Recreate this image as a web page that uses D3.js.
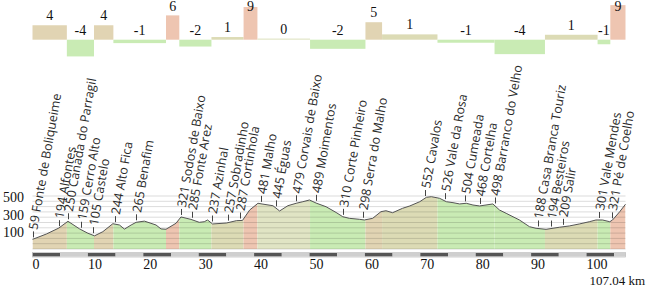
<!DOCTYPE html>
<html>
<head>
<meta charset="utf-8">
<script src="https://cdn.jsdelivr.net/npm/d3@7"></script>
<style>
  body { margin: 0; background: #fff; }
</style>
</head>
<body>
<div id="chart"></div>
<script>
const width = 649;
const height = 289;

// gradient segments: boundaries in km, gradient in %, printed label
const segKm = [0, 6.2, 11.1, 14.6, 24.1, 26.5, 32.3, 38.1, 40.6, 50.1, 60.1, 63.1, 73.1, 83.4, 92.5, 102.0, 104.3, 107.04];
const segGrade = [3.8, -4.4, 3.8, -0.9, 6.4, -1.8, 0.7, 8.6, 0.3, -2.4, 4.6, 1.4, -0.8, -3.8, 1.3, -1.2, 9.1];
const segLabel = [4, -4, 4, -1, 6, -2, 1, 9, 0, -2, 5, 1, -1, -4, 1, -1, 9];

// elevation profile (km, m)
const profKm = [0, 2.5, 4.75, 6.4, 8.5, 10, 11.2, 12.7, 14.5, 15.7, 16.6, 17.8, 18.7, 20.2, 22.3, 23.2, 24.1,
  25.9, 26.8, 28.6, 30.1, 31.0, 31.6, 32.5, 35.0, 36.8, 37.9, 39.2, 40.7, 41.6, 43.4, 44.6, 46.1, 47.6,
  48.8, 50.0, 51.2, 53.0, 54.8, 56.0, 57.2, 59.0, 59.9, 61.4, 62.9, 63.8, 65.0, 66.8, 68.1, 69.9, 71.1,
  72.0, 73.5, 74.7, 75.9, 77.1, 78.3, 79.5, 80.7, 83.1, 84.3, 85.5, 87.9, 89.7, 90.9, 92.7, 95.1, 96.9,
  98.7, 100.5, 101.7, 102.9, 104.2, 104.7, 106.0, 107.04];
const profElev = [59, 121, 190, 268, 180, 130, 100, 148, 240, 225, 178, 225, 256, 270, 225, 180, 176,
  245, 318, 290, 256, 263, 283, 237, 248, 275, 278, 398, 476, 466, 448, 387, 448, 476,
  494, 514, 478, 436, 370, 321, 302, 291, 283, 302, 379, 390, 367, 418, 445, 494, 545,
  552, 533, 494, 483, 468, 476, 456, 445, 468, 398, 360, 283, 206, 187, 175, 199, 214,
  237, 263, 283, 283, 263, 283, 379, 465];

// waypoints
const wpKm = [0, 4.7, 6.4, 8.8, 10.9, 14.9, 18.7, 26.8, 28.8, 32.4, 35.3, 37.4, 41.3, 44.0, 47.6, 51.1,
  56.1, 59.6, 70.9, 74.5, 78.1, 80.7, 83.4, 91.2, 93.6, 95.7, 102.3, 104.6];
const wpElev = [59, 194, 250, 159, 105, 244, 265, 321, 285, 237, 257, 287, 481, 445, 479, 489,
  310, 298, 552, 526, 504, 468, 498, 188, 194, 209, 301, 321];
const wpName = ["Fonte de Boliqueime", "Alfontes", "Canada do Parragil", "Cerro Alto", "Castelo",
  "Alto Fica", "Benafim", "Sodos de Baixo", "Fonte Arez", "Azinhal", "Sobradinho", "Cortinhola",
  "Malho", "Éguas", "Corvais de Baixo", "Moimentos", "Corte Pinheiro", "Serra do Malho", "Cavalos",
  "Vale da Rosa", "Cumeada", "Cortelha", "Barranco do Velho", "Casa Branca Touriz", "Besteiros",
  "Salir", "Vale Mendes", "Pé de Coelho"];

const xTicks = [0, 10, 20, 30, 40, 50, 60, 70, 80, 90, 100];
const yTicks = [100, 300, 500];
const totalKm = 107.04;

// SCALES
const x = d3.scaleLinear().domain([0, totalKm]).range([32.5, 625.5]);
const y = d3.scaleLinear().domain([-52, 560]).range([249, 196]);
const gradeY = d3.scaleLinear().domain([0, 9]).range([39.7, 5.5]);

function segColor(v) {
  if (v >= 6) return "#eec5b1";
  if (v >= 3) return "#e1d4b3";
  if (v >= 1) return "#dcdbb5";
  if (v >= 0) return "#e0e4c4";
  return "#c9ebb4";
}

const svg = d3.select("#chart")
  .append("svg")
  .attr("width", width)
  .attr("height", height)
  .style("font-family", "'Liberation Serif', serif");

// TOP GRADIENT BARS
const segs = segGrade.map((g, i) => ({ g, label: segLabel[i], k0: segKm[i], k1: segKm[i + 1] }));

svg.selectAll("rect.grade")
  .data(segs)
  .enter()
  .append("rect")
  .attr("class", "grade")
  .attr("x", d => x(d.k0))
  .attr("width", d => x(d.k1) - x(d.k0))
  .attr("y", d => gradeY(Math.max(d.g, 0)))
  .attr("height", d => Math.abs(gradeY(d.g) - gradeY(0)))
  .attr("fill", d => segColor(d.label));

svg.selectAll("text.gradeLabel")
  .data(segs)
  .enter()
  .append("text")
  .attr("class", "gradeLabel")
  .attr("x", d => (x(d.k0) + x(d.k1)) / 2)
  .attr("y", d => d.g > 0 ? Math.max(gradeY(d.g) - 5, 11) : 35)
  .attr("text-anchor", "middle")
  .attr("font-size", 14)
  .attr("fill", "#111")
  .text(d => d.label);

// PROFILE
const prof = profKm.map((k, i) => ({ k, e: profElev[i] }));

const area = d3.area()
  .x(d => x(d.k))
  .y0(y(-52))
  .y1(d => y(d.e));

const line = d3.line()
  .x(d => x(d.k))
  .y(d => y(d.e));

svg.append("clipPath")
  .attr("id", "profClip")
  .append("path")
  .attr("d", area(prof));

svg.append("g")
  .attr("clip-path", "url(#profClip)")
  .selectAll("rect")
  .data(segs)
  .enter()
  .append("rect")
  .attr("x", d => x(d.k0))
  .attr("width", d => x(d.k1) - x(d.k0))
  .attr("y", y(560))
  .attr("height", y(-52) - y(560))
  .attr("fill", d => segColor(d.label));

// grid: ten equal bands of the elevation domain
const gridVals = d3.range(0, 11).map(i => -52 + i * 61.2);
svg.selectAll("line.grid")
  .data(gridVals)
  .enter()
  .append("line")
  .attr("class", "grid")
  .attr("x1", x(0))
  .attr("x2", x(totalKm))
  .attr("y1", d => y(d))
  .attr("y2", d => y(d))
  .attr("stroke", "rgba(0,0,0,0.14)")
  .attr("stroke-width", 1);

svg.append("path")
  .attr("d", line(prof))
  .attr("fill", "none")
  .attr("stroke", "#555")
  .attr("stroke-width", 1);

// y labels
svg.selectAll("text.yLabel")
  .data(yTicks)
  .enter()
  .append("text")
  .attr("class", "yLabel")
  .attr("x", 3)
  .attr("y", d => y(d) + 1)
  .attr("font-size", 14)
  .attr("fill", "#111")
  .text(d => d);

// WAYPOINT LABELS
const profAt = k => {
  const i = d3.bisectLeft(profKm, k);
  if (i <= 0) return profElev[0];
  if (i >= profKm.length) return profElev[profElev.length - 1];
  const t = (k - profKm[i - 1]) / (profKm[i] - profKm[i - 1]);
  return profElev[i - 1] + t * (profElev[i] - profElev[i - 1]);
};

const wps = wpKm.map((k, i) => ({ k, e: wpElev[i], name: wpName[i], py: y(profAt(wpKm[i])) }));

const wpG = svg.append("g")
  .style("font-family", "'Open Sans', sans-serif")
  .attr("font-size", 12.5)
  .attr("fill", "#2a2a2a");

wpG.selectAll("line")
  .data(wps)
  .enter()
  .append("line")
  .attr("x1", d => Math.round(x(d.k)) + 0.5)
  .attr("x2", d => Math.round(x(d.k)) + 0.5)
  .attr("y1", d => d.py - 2)
  .attr("y2", d => d.py - 8)
  .attr("stroke", "#444");

wpG.selectAll("text")
  .data(wps)
  .enter()
  .append("text")
  .attr("transform", d => `translate(${x(d.k) + 0.5}, ${d.py - 10}) rotate(-80)`)
  .attr("dy", "0.35em")
  .text(d => `${d.e} ${d.name}`);

// DISTANCE BAR
const kmSteps = d3.range(0, totalKm, 5);
svg.selectAll("rect.scaleBar")
  .data(kmSteps)
  .enter()
  .append("rect")
  .attr("class", "scaleBar")
  .attr("x", d => x(d))
  .attr("width", d => x(Math.min(d + 5, totalKm)) - x(d))
  .attr("y", 253)
  .attr("height", 3.5)
  .attr("fill", (d, i) => i % 2 === 0 ? "#555" : "#cfcfcf");

svg.append("rect")
  .attr("x", x(0))
  .attr("y", 252.5)
  .attr("width", x(totalKm) - x(0))
  .attr("height", 4.5)
  .attr("fill", "none")
  .attr("stroke", "#bbb")
  .attr("stroke-width", 0.7);

svg.selectAll("text.xLabel")
  .data(xTicks)
  .enter()
  .append("text")
  .attr("class", "xLabel")
  .attr("x", d => x(d))
  .attr("y", 269)
  .attr("font-size", 14)
  .attr("fill", "#111")
  .text(d => d);

svg.append("text")
  .attr("x", 645)
  .attr("y", 285)
  .attr("text-anchor", "end")
  .attr("font-size", 13)
  .attr("fill", "#111")
  .text(`${totalKm} km`);
</script>
</body>
</html>
